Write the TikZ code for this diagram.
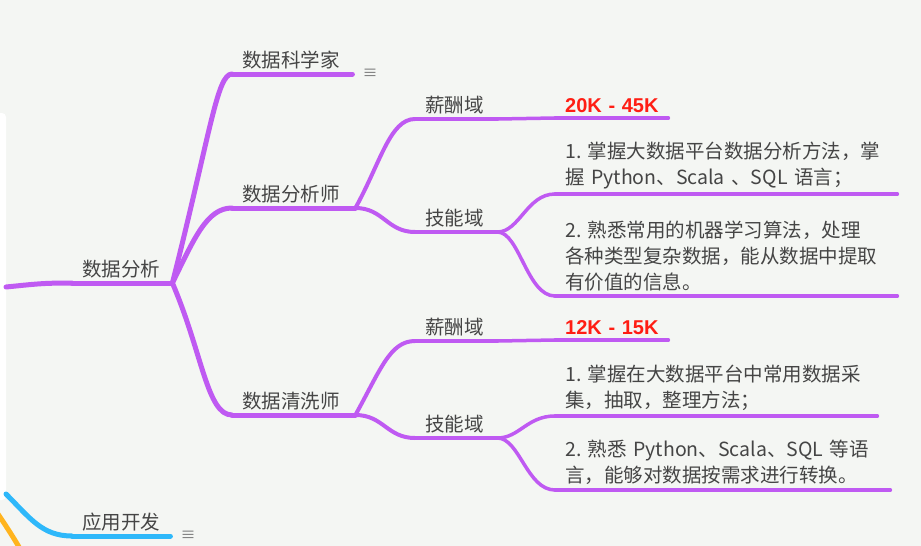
\documentclass[tikz,border=0pt]{standalone}
\usepackage{fontspec}
\setmainfont{Noto Sans CJK SC}
\newfontfamily\salaryfont{Liberation Sans}
\usetikzlibrary{positioning}

\definecolor{bgcol}{HTML}{F4F6F3}
\definecolor{mindpurple}{HTML}{BF5AF2}
\definecolor{mindblue}{HTML}{2EB8FA}
\definecolor{mindorange}{HTML}{FFB41E}
\definecolor{topictext}{HTML}{454545}
\definecolor{salaryred}{HTML}{FF1E14}

\tikzset{
  topic/.style={anchor=south west,inner xsep=10pt,inner ysep=5pt,text width=#1,
    align=left,text=topictext,font=\fontsize{19.5}{26}\selectfont},
  salary/.style={topic=#1,text=salaryred,font=\salaryfont\bfseries\fontsize{20}{26}\selectfont},
  branch/.style={draw=mindpurple,line width=#1},
  fold/.style={inner sep=0pt,text=gray!90!black,font=\fontsize{15}{15}\selectfont}
}

\begin{document}
\begin{tikzpicture}[x=1pt,y=-1pt,line cap=round,line join=round]
  \useasboundingbox[fill=bgcol] (0,0) rectangle (921,546);
  \clip (0,0) rectangle (921,546);

  % central topic, cut off at the left
  \fill[white,rounded corners=4pt] (-20,113) rectangle (6,500);
  \coordinate (rootin) at (6,287);
  \coordinate (appin) at (6,494);
  \coordinate (orangein) at (-4,511);
  \coordinate (orangeout) at (24,556);

  \node[topic=80pt] (root) at (72,283) {数据分析};
  \node[topic=100pt] (sci) at (232,74) {数据科学家};
  \node[topic=103pt] (ana) at (232,208) {数据分析师};
  \node[topic=103pt] (cln) at (232,415) {数据清洗师};
  \node[fold,right=10pt of sci.south east] (fold1) {≡};

  % 数据分析师
  \node[topic=62pt] (pay1) at (415,119) {薪酬域};
  \node[salary=93pt] (sal1) at (555,118) {\mbox{20K - 45K}};
  \node[topic=62pt] (skill1) at (415,232) {技能域};
  \node[topic=322pt] (item11) at (555,194)
    {1.~掌握大数据平台数据分析方法，掌\\握 Python、Scala 、SQL 语言；};
  \node[topic=322pt] (item12) at (555,296)
    {2.~熟悉常用的机器学习算法，处理\\各种类型复杂数据，能从数据中提取\\有价值的信息。};

  % 数据清洗师
  \node[topic=62pt] (pay2) at (415,341) {薪酬域};
  \node[salary=93pt] (sal2) at (555,340) {\mbox{12K - 15K}};
  \node[topic=62pt] (skill2) at (415,438) {技能域};
  \node[topic=302pt] (item21) at (555,416)
    {1.~掌握在大数据平台中常用数据采\\集，抽取，整理方法；};
  \node[topic=315pt] (item22) at (555,490)
    {2.~熟悉 Python、Scala、SQL 等语\\言，能够对数据按需求进行转换。};

  \node[topic=78pt] (app) at (72,536) {应用开发};
  \node[fold,right=10pt of app.south east] (fold2) {≡};

  % underlines
  \foreach \n in {root,sci,ana,cln}
    \draw[branch=5pt] (\n.south west) -- (\n.south east);
  \foreach \n in {pay1,skill1,pay2,skill2}
    \draw[branch=4pt] (\n.south west) -- (\n.south east);
  \foreach \n in {sal1,item11,item12,sal2,item21,item22}
    \draw[branch=3.5pt] (\n.south west) -- (\n.south east);

  % connectors
  \draw[branch=5pt] (rootin) .. controls +(30,-3) and +(-30,0) .. (root.south west);
  \draw[branch=5pt] (root.south east) .. controls +(38,-150) and +(-15,0) .. (sci.south west);
  \draw[branch=5pt] (root.south east) .. controls +(22,-45) and +(-25,0) .. (ana.south west);
  \draw[branch=5pt] (root.south east) .. controls +(30,70) and +(-25,0) .. (cln.south west);

  \draw[branch=4pt] (ana.south east) .. controls +(25,-45) and +(-25,0) .. (pay1.south west);
  \draw[branch=4pt] (ana.south east) .. controls +(28,0) and +(-28,0) .. (skill1.south west);
  \draw[branch=4pt] (cln.south east) .. controls +(25,-45) and +(-25,0) .. (pay2.south west);
  \draw[branch=4pt] (cln.south east) .. controls +(28,0) and +(-28,0) .. (skill2.south west);

  \draw[branch=3.5pt] (pay1.south east) -- (sal1.south west);
  \draw[branch=3.5pt] (pay2.south east) -- (sal2.south west);
  \draw[branch=3.5pt] (skill1.south east) .. controls +(22,0) and +(-28,0) .. (item11.south west);
  \draw[branch=3.5pt] (skill1.south east) .. controls +(22,0) and +(-28,0) .. (item12.south west);
  \draw[branch=3.5pt] (skill2.south east) .. controls +(22,0) and +(-28,0) .. (item21.south west);
  \draw[branch=3.5pt] (skill2.south east) .. controls +(22,0) and +(-28,0) .. (item22.south west);

  % other main branches
  \draw[mindblue,line width=5pt] (appin) .. controls +(24,24) and +(-30,0) .. (app.south west);
  \draw[mindblue,line width=5pt] (app.south west) -- (app.south east);
  \draw[mindorange,line width=5pt] (orangein) .. controls +(10,15) and +(-8,-15) .. (orangeout);
\end{tikzpicture}
\end{document}
